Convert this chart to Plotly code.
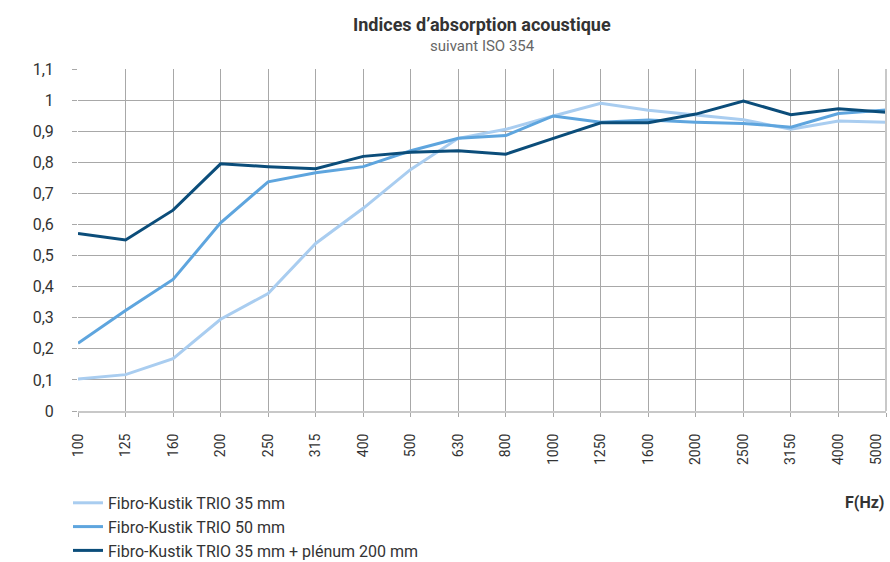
import plotly.graph_objects as go

freqs = ["100", "125", "160", "200", "250", "315", "400", "500", "630", "800",
         "1000", "1250", "1600", "2000", "2500", "3150", "4000", "5000"]
trio35 = [0.103, 0.117, 0.168, 0.295, 0.378, 0.539, 0.652, 0.777, 0.877, 0.906,
          0.949, 0.99, 0.967, 0.952, 0.937, 0.906, 0.933, 0.929]
trio50 = [0.218, 0.323, 0.423, 0.605, 0.737, 0.766, 0.786, 0.837, 0.877, 0.886,
          0.949, 0.929, 0.936, 0.929, 0.925, 0.913, 0.957, 0.968]
trio35_plenum = [0.571, 0.55, 0.646, 0.795, 0.786, 0.779, 0.819, 0.832, 0.837, 0.826,
                 0.877, 0.927, 0.927, 0.955, 0.997, 0.953, 0.972, 0.961]
ytick_vals = [0, 0.1, 0.2, 0.3, 0.4, 0.5, 0.6, 0.7, 0.8, 0.9, 1.0, 1.1]
ytick_text = ["0", "0,1", "0,2", "0,3", "0,4", "0,5", "0,6", "0,7", "0,8", "0,9", "1", "1,1"]

names = ["Fibro-Kustik TRIO 35 mm", "Fibro-Kustik TRIO 50 mm",
         "Fibro-Kustik TRIO 35 mm + plénum 200 mm"]
colors = ["#a9cdf0", "#5ea5de", "#0b4d7a"]

# last label padded with an empty line so it stays inside the right edge
xtick_text = freqs[:-1] + [freqs[-1] + "<br>&nbsp;"]

FONT = "Roboto, sans-serif"

fig = go.Figure()
for name, vals, col in zip(names, [trio35, trio50, trio35_plenum], colors):
    fig.add_trace(go.Scatter(x=freqs, y=vals, mode="lines", name=name,
                             line=dict(color=col, width=3)))

fig.update_layout(
    width=890, height=562,
    margin=dict(l=78, r=4, t=69, b=151, autoexpand=False),
    paper_bgcolor="white", plot_bgcolor="white",
    font=dict(family=FONT, color="#333333", size=15),
    showlegend=True,
    legend=dict(x=-0.0124, y=-0.219, xanchor="left", yanchor="top",
                orientation="v", font=dict(size=16, color="#333333"),
                tracegroupgap=0),
    xaxis=dict(type="category", range=[0, 17], showgrid=True,
               tickvals=freqs, ticktext=xtick_text,
               gridcolor="#a8a8a8", gridwidth=1, tickangle=-90,
               ticks="outside", ticklen=4, tickcolor="#a8a8a8",
               ticklabelstandoff=11, automargin=False,
               showline=True, linecolor="#c8c8c8", linewidth=2,
               tickfont=dict(size=14, color="#333333")),
    yaxis=dict(range=[0, 1.1], tickvals=ytick_vals, ticktext=ytick_text,
               showgrid=True, gridcolor="#a8a8a8", gridwidth=1,
               ticks="outside", ticklen=5, tickcolor="#a8a8a8",
               ticklabelstandoff=15, automargin=False,
               zeroline=False, showline=False,
               tickfont=dict(size=16, color="#333333")),
)
fig.add_shape(type="line", xref="paper", yref="paper", x0=1, x1=1, y0=0, y1=1,
              line=dict(color="#c8c8c8", width=2))
fig.add_annotation(text="<b>Indices d’absorption acoustique</b>", xref="paper", yref="paper",
                   x=0.5, y=1.0, yshift=45, xanchor="center", yanchor="middle",
                   showarrow=False, font=dict(size=18, color="#333333"))
fig.add_annotation(text="suivant ISO 354", xref="paper", yref="paper",
                   x=0.5, y=1.0, yshift=23, xanchor="center", yanchor="middle",
                   showarrow=False, font=dict(size=15, color="#666666"))
fig.add_annotation(text="<b>F(Hz)</b>", xref="paper", yref="paper",
                   x=1.0, y=0, yshift=-91, xanchor="right", yanchor="middle",
                   showarrow=False, font=dict(size=16, color="#333333"))

fig.write_html("out.html", config={"displayModeBar": False},
               post_script="document.body.style.margin='0';")
